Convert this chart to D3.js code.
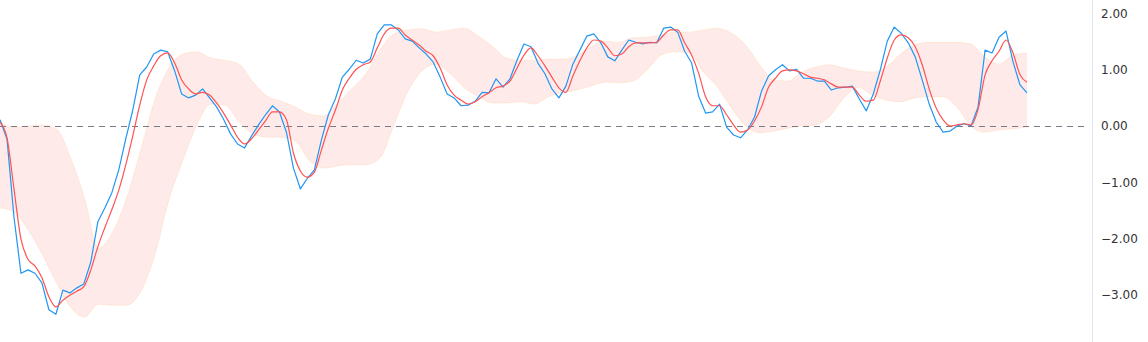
<!DOCTYPE html>
<html>
<head>
<meta charset="utf-8">
<script src="https://cdn.jsdelivr.net/npm/d3@7"></script>
<style>
  body { margin: 0; background: #fff; }
  svg { display: block; }
  .tick text { font-family: "DejaVu Sans", sans-serif; font-size: 12px; fill: #333; }
</style>
</head>
<body>
<svg id="chart"></svg>
<script>
// oscillator (blue), its signal line (red), one value per bar
const fastLine = [
  0.11, -0.23, -1.62, -2.62, -2.56, -2.62, -2.79, -3.27, -3.35, -2.92,
  -2.97, -2.88, -2.81, -2.42, -1.71, -1.46, -1.19, -0.78, -0.23, 0.28,
  0.91, 1.05, 1.28, 1.35, 1.32, 0.98, 0.57, 0.50, 0.55, 0.66,
  0.50, 0.34, 0.12, -0.14, -0.32, -0.39, -0.18, 0.02, 0.20, 0.36,
  0.25, -0.11, -0.75, -1.12, -0.93, -0.78, -0.25, 0.20, 0.48, 0.87,
  1.01, 1.17, 1.12, 1.19, 1.64, 1.80, 1.80, 1.71, 1.55, 1.51,
  1.39, 1.28, 1.14, 0.87, 0.57, 0.50, 0.36, 0.37, 0.44, 0.60,
  0.59, 0.84, 0.69, 0.84, 1.17, 1.46, 1.41, 1.12, 0.93, 0.66,
  0.50, 0.71, 1.10, 1.35, 1.60, 1.64, 1.48, 1.23, 1.16, 1.35,
  1.53, 1.49, 1.46, 1.49, 1.48, 1.74, 1.76, 1.67, 1.33, 1.12,
  0.53, 0.23, 0.25, 0.39, -0.02, -0.16, -0.21, -0.07, 0.16, 0.62,
  0.89, 1.00, 1.09, 0.98, 1.01, 0.85, 0.85, 0.80, 0.80, 0.64,
  0.68, 0.69, 0.71, 0.48, 0.27, 0.57, 1.00, 1.51, 1.76, 1.65,
  1.48, 1.23, 0.82, 0.39, 0.07, -0.11, -0.09, 0.00, 0.04, 0.00,
  0.34, 1.35, 1.30, 1.58, 1.69, 1.14, 0.73, 0.59
];

const signalLine = [
  0.07, -0.21, -1.12, -2.01, -2.37, -2.49, -2.70, -3.04, -3.22, -3.10,
  -3.01, -2.94, -2.86, -2.56, -2.15, -1.81, -1.49, -1.14, -0.69, -0.18,
  0.37, 0.82, 1.07, 1.25, 1.30, 1.12, 0.82, 0.66, 0.57, 0.60,
  0.55, 0.41, 0.23, 0.02, -0.20, -0.32, -0.23, -0.07, 0.09, 0.25,
  0.25, 0.11, -0.48, -0.80, -0.91, -0.82, -0.43, -0.04, 0.28, 0.64,
  0.85, 1.01, 1.09, 1.14, 1.39, 1.64, 1.74, 1.74, 1.62, 1.53,
  1.44, 1.33, 1.25, 1.03, 0.73, 0.55, 0.46, 0.39, 0.43, 0.52,
  0.59, 0.68, 0.71, 0.80, 1.03, 1.26, 1.39, 1.25, 1.07, 0.87,
  0.68, 0.60, 0.89, 1.16, 1.39, 1.53, 1.51, 1.39, 1.25, 1.28,
  1.41, 1.48, 1.48, 1.48, 1.49, 1.62, 1.71, 1.71, 1.48, 1.26,
  0.94, 0.52, 0.36, 0.36, 0.20, 0.02, -0.11, -0.07, 0.09, 0.34,
  0.69, 0.85, 0.98, 1.00, 0.98, 0.93, 0.87, 0.85, 0.82, 0.75,
  0.69, 0.69, 0.69, 0.55, 0.44, 0.46, 0.80, 1.21, 1.53, 1.62,
  1.57, 1.41, 1.09, 0.66, 0.32, 0.11, 0.00, 0.02, 0.04, 0.02,
  0.30, 0.91, 1.16, 1.33, 1.53, 1.30, 0.91, 0.78
];

// envelope band, sampled every other bar
const bandUpper = [
  0.07, -0.02, 0.00, 0.02, -0.05, -0.55, -1.28, -2.17, -1.89, -1.28,
  -0.43, 0.46, 1.03, 1.28, 1.32, 1.21, 1.17, 1.10, 0.78, 0.53,
  0.44, 0.34, 0.21, 0.18, 0.41, 0.66, 0.93, 1.35, 1.64, 1.71,
  1.73, 1.67, 1.71, 1.74, 1.60, 1.42, 1.21, 1.17, 1.17, 1.19,
  1.19, 1.25, 1.41, 1.51, 1.49, 1.57, 1.58, 1.62, 1.67, 1.67,
  1.71, 1.74, 1.65, 1.44, 1.09, 0.82, 0.80, 0.96, 1.05, 1.09,
  1.03, 0.98, 0.96, 1.05, 1.28, 1.44, 1.49, 1.49, 1.49, 1.46,
  1.23, 1.10, 1.26, 1.30
];

const bandLower = [
  -1.46, -1.53, -1.85, -2.28, -2.78, -3.22, -3.40, -3.17, -3.19, -3.19,
  -2.95, -2.30, -1.32, -0.61, 0.02, 0.39, 0.37, 0.07, -0.14, -0.20,
  -0.20, -0.27, -0.62, -0.75, -0.71, -0.69, -0.69, -0.57, 0.02, 0.62,
  0.98, 1.10, 0.93, 0.68, 0.52, 0.41, 0.41, 0.43, 0.39, 0.52,
  0.59, 0.64, 0.71, 0.78, 0.77, 0.80, 1.00, 1.26, 1.32, 1.30,
  0.96, 0.69, 0.32, 0.00, -0.12, -0.09, -0.04, 0.00, 0.02, 0.18,
  0.50, 0.69, 0.55, 0.46, 0.43, 0.50, 0.52, 0.52, 0.34, 0.00,
  -0.11, -0.07, -0.05, -0.02
];

const tickValues = [2, 1, 0, -1, -2, -3];

const width = 1148;
const height = 342;
const plotRight = 1027;
const axisX = 1092;

const svg = d3.select("#chart").attr("width", width).attr("height", height);

const xScale = d3.scaleLinear().domain([0, fastLine.length - 1]).range([0, plotRight]);
const xBand = d3.scaleLinear().domain([0, bandUpper.length - 1]).range([0, plotRight]);
const yScale = d3.scaleLinear().domain([2, -3]).range([13.6, 294.6]);

// band
const bandData = bandUpper.map((u, i) => ({ i: i, hi: u, lo: bandLower[i] }));

svg.append("path")
  .datum(bandData)
  .attr("fill", "rgba(255, 82, 82, 0.12)")
  .attr("d", d3.area()
    .curve(d3.curveMonotoneX)
    .x((d) => xBand(d.i))
    .y0((d) => yScale(d.lo))
    .y1((d) => yScale(d.hi)));

["hi", "lo"].forEach((key) => {
  svg.append("path")
    .datum(bandData)
    .attr("fill", "none")
    .attr("stroke", "rgba(255, 152, 0, 0.12)")
    .attr("stroke-width", 1)
    .attr("d", d3.line()
      .curve(d3.curveMonotoneX)
      .x((d) => xBand(d.i))
      .y((d) => yScale(d[key])));
});

// zero line
svg.append("line")
  .attr("x1", 0)
  .attr("x2", axisX - 3)
  .attr("y1", Math.round(yScale(0)) + 0.5)
  .attr("y2", Math.round(yScale(0)) + 0.5)
  .attr("stroke", "#787b86")
  .attr("stroke-width", 1)
  .attr("stroke-dasharray", "6,5");

// oscillator lines
let drawLine = (values, color, curve) => {
  svg.append("path")
    .datum(values)
    .attr("fill", "none")
    .attr("stroke", color)
    .attr("stroke-width", 1.2)
    .attr("stroke-linejoin", "round")
    .attr("d", d3.line()
      .curve(curve)
      .x((d, i) => xScale(i))
      .y((d) => yScale(d)));
};

drawLine(fastLine, "#2196f3", d3.curveLinear);
drawLine(signalLine, "#ff5252", d3.curveMonotoneX);

// right price scale
svg.append("line")
  .attr("x1", axisX + 0.5)
  .attr("x2", axisX + 0.5)
  .attr("y1", 0)
  .attr("y2", height)
  .attr("stroke", "#e0e3eb");

const yAxis = d3.axisRight(yScale)
  .tickValues(tickValues)
  .tickSize(0)
  .tickPadding(9)
  .tickFormat(d3.format(".2f"));

svg.append("g")
  .attr("transform", `translate(${axisX},0)`)
  .call(yAxis)
  .call((g) => g.select(".domain").remove());
</script>
</body>
</html>
